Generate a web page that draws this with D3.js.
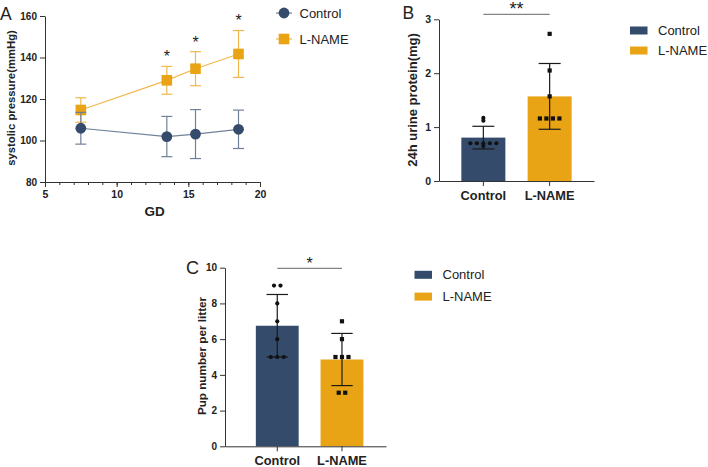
<!DOCTYPE html>
<html>
<head>
<meta charset="utf-8">
<script src="https://cdn.jsdelivr.net/npm/d3@7"></script>
<style>
  body { margin: 0; background: #fff; }
  svg { display: block; font-family: "Liberation Sans", Arial, sans-serif; }
</style>
</head>
<body>
<div id="chart"></div>
<script>
// ---- data ----
const groups = ["Control", "L-NAME"];
const colors = { "Control": "#344b6b", "L-NAME": "#e9a415" };
const lineColors = { "Control": "#6f8199", "L-NAME": "#f0b84a" };

// panel A: systolic pressure by gestational day
const gdDays = [7.5, 13.5, 15.5, 18.5];
const sbpControl = [105.9, 101.9, 103.1, 105.4];
const sbpControlErr = [7.65, 9.7, 11.8, 9.25];
const sbpLname = [114.7, 129.0, 134.6, 141.7];
const sbpLnameErr = [5.9, 6.7, 8.2, 11.3];
const sbpStarDays = [13.5, 15.5, 18.5];
const gdTicks = [5, 10, 15, 20];
const gdMinorTicks = d3.range(5, 21);
const sbpTicks = [80, 100, 120, 140, 160];

// panel B: 24h urine protein
const proteinControl = [1.17, 1.12, 0.70, 0.70, 0.70, 0.70, 0.70, 0.65];
const proteinLname = [2.73, 2.05, 1.57, 1.16, 1.16, 1.16, 1.16];
const proteinMean = [0.805, 1.57];
const proteinSd = [0.21, 0.61];
const proteinTicks = [0, 1, 2, 3];

// panel C: pups per litter
const pupsControl = [9, 9, 8, 7, 6, 5, 5, 5];
const pupsLname = [7, 6, 5, 5, 5, 3, 3];
const pupsMean = [6.75, 4.86];
const pupsSd = [1.75, 1.46];
const pupsTicks = [0, 2, 4, 6, 8, 10];

const W = 708, H = 467;
const axisColor = "#333";

const svg = d3.select("#chart").append("svg")
  .attr("width", W).attr("height", H)
  .attr("viewBox", `0 0 ${W} ${H}`);

function styleAxis(g, fs) {
  g.selectAll("path").attr("stroke", axisColor).attr("stroke-width", 1);
  g.selectAll("line").attr("stroke", axisColor).attr("stroke-width", 1);
  g.selectAll("text")
    .attr("fill", "#222")
    .style("font-size", fs + "px")
    .style("font-weight", "bold")
    .style("font-family", '"Liberation Sans", Arial, sans-serif');
}

function panelLetter(txt, x, y, fs) {
  svg.append("text").attr("x", x).attr("y", y)
    .attr("font-size", fs).attr("fill", "#222").text(txt);
}

function star(txt, x, cy, fs) {
  svg.append("text").attr("x", x).attr("y", cy + 0.62 * fs)
    .attr("text-anchor", "middle").attr("font-size", fs)
    .attr("fill", "#222").text(txt);
}

// ================= Panel A =================
(function () {
  const x = d3.scaleLinear().domain([5, 20]).range([45, 260]);
  const y = d3.scaleLinear().domain([80, 160]).range([182, 16]);

  svg.append("g").attr("transform", `translate(0,${y(80)})`)
    .call(d3.axisBottom(x).tickValues(gdMinorTicks).tickSize(3).tickSizeOuter(0).tickFormat(""))
    .call(g => styleAxis(g, 10));
  svg.append("g").attr("transform", `translate(0,${y(80)})`)
    .call(d3.axisBottom(x).tickValues(gdTicks).tickSize(5).tickSizeOuter(0).tickPadding(4))
    .call(g => styleAxis(g, 10.5));
  svg.append("g").attr("transform", `translate(${x(5)},0)`)
    .call(d3.axisLeft(y).tickValues(sbpTicks).tickSize(5).tickSizeOuter(0).tickPadding(3))
    .call(g => styleAxis(g, 10));

  svg.append("text").attr("x", 154.5).attr("y", 216)
    .attr("text-anchor", "middle").attr("font-size", 13.5).attr("font-weight", "bold")
    .attr("fill", "#222").text("GD");
  svg.append("text").attr("transform", "translate(14.5,98) rotate(-90)")
    .attr("text-anchor", "middle").attr("font-size", 11.3).attr("font-weight", "bold")
    .attr("fill", "#222").text("systolic pressure(mmHg)");

  const series = [
    { name: "L-NAME", mean: sbpLname, err: sbpLnameErr, shape: "square" },
    { name: "Control", mean: sbpControl, err: sbpControlErr, shape: "circle" }
  ];
  const cap = 5.5;
  series.forEach(s => {
    const pts = gdDays.map((d, i) => ({ d, m: s.mean[i], e: s.err[i] }));
    const g = svg.append("g");
    g.append("path").datum(pts)
      .attr("d", d3.line().x(p => x(p.d)).y(p => y(p.m)))
      .attr("fill", "none").attr("stroke", lineColors[s.name]).attr("stroke-width", 1.2);
    const eb = g.selectAll("g.eb").data(pts).enter().append("g")
      .attr("stroke", lineColors[s.name]).attr("stroke-width", 1.2);
    eb.append("line").attr("x1", p => x(p.d)).attr("x2", p => x(p.d))
      .attr("y1", p => y(p.m - p.e)).attr("y2", p => y(p.m + p.e));
    eb.append("line").attr("x1", p => x(p.d) - cap).attr("x2", p => x(p.d) + cap)
      .attr("y1", p => y(p.m + p.e)).attr("y2", p => y(p.m + p.e));
    eb.append("line").attr("x1", p => x(p.d) - cap).attr("x2", p => x(p.d) + cap)
      .attr("y1", p => y(p.m - p.e)).attr("y2", p => y(p.m - p.e));
    if (s.shape === "circle") {
      g.selectAll("circle").data(pts).enter().append("circle")
        .attr("cx", p => x(p.d)).attr("cy", p => y(p.m)).attr("r", 5.4)
        .attr("fill", colors[s.name]);
    } else {
      g.selectAll("rect").data(pts).enter().append("rect")
        .attr("x", p => x(p.d) - 5.3).attr("y", p => y(p.m) - 5.3)
        .attr("width", 10.6).attr("height", 10.6)
        .attr("fill", colors[s.name]);
    }
  });

  // stars above L-NAME error bars
  sbpStarDays.forEach(d => {
    const i = gdDays.indexOf(d);
    star("*", x(d), y(sbpLname[i] + sbpLnameErr[i]) - 14, 16);
  });

  // legend
  const lg = svg.append("g");
  [["Control", 13, "circle"], ["L-NAME", 39, "square"]].forEach(([name, cy, shape]) => {
    lg.append("line").attr("x1", 276).attr("x2", 292).attr("y1", cy).attr("y2", cy)
      .attr("stroke", lineColors[name]).attr("stroke-width", 1.2);
    if (shape === "circle") {
      lg.append("circle").attr("cx", 284).attr("cy", cy).attr("r", 5.4).attr("fill", colors[name]);
    } else {
      lg.append("rect").attr("x", 284 - 5.3).attr("y", cy - 5.3)
        .attr("width", 10.6).attr("height", 10.6).attr("fill", colors[name]);
    }
    lg.append("text").attr("x", 299.5).attr("y", cy + 4.8)
      .attr("font-size", 13).attr("fill", "#222").text(name);
  });

  panelLetter("A", 0, 19.5, 17.5);
})();

// ============ bar panel helper (B and C) ============
function barPanel(opt) {
  const x = d3.scaleBand().domain(groups).range(opt.xRange)
    .paddingInner(opt.padInner).paddingOuter(opt.padOuter).align(opt.align);
  const y = d3.scaleLinear().domain(opt.yDomain).range(opt.yRange);
  const bw = x.bandwidth();
  const yBase = y(0);

  // bars
  svg.append("g").selectAll("rect").data(groups).enter().append("rect")
    .attr("x", g => x(g)).attr("width", bw)
    .attr("y", (g, i) => y(opt.mean[i]))
    .attr("height", (g, i) => yBase - y(opt.mean[i]))
    .attr("fill", g => colors[g]);

  // axes
  svg.append("g").attr("transform", `translate(0,${yBase})`)
    .call(d3.axisBottom(x).tickSize(5).tickSizeOuter(0).tickPadding(5))
    .call(g => styleAxis(g, 12.8));
  svg.append("g").attr("transform", `translate(${opt.xRange[0]},0)`)
    .call(d3.axisLeft(y).tickValues(opt.ticks).tickFormat(d3.format("d"))
      .tickSize(5).tickSizeOuter(0).tickPadding(3))
    .call(g => styleAxis(g, opt.tickFs));

  // error bars (mean +/- SD)
  const cap = bw / 4;
  const eb = svg.append("g").attr("stroke", "#1a1a1a").attr("stroke-width", 1.2);
  groups.forEach((g, i) => {
    const cx = x(g) + bw / 2;
    const hi = y(opt.mean[i] + opt.sd[i]), lo = y(opt.mean[i] - opt.sd[i]);
    eb.append("line").attr("x1", cx).attr("x2", cx).attr("y1", lo).attr("y2", hi);
    eb.append("line").attr("x1", cx - cap).attr("x2", cx + cap).attr("y1", hi).attr("y2", hi);
    eb.append("line").attr("x1", cx - cap).attr("x2", cx + cap).attr("y1", lo).attr("y2", lo);
  });

  // individual points, equal values spread in a row
  const step = 6.5;
  [opt.control, opt.lname].forEach((vals, gi) => {
    const cx = x(groups[gi]) + bw / 2;
    const counts = d3.rollup(vals, v => v.length, v => v);
    const seen = new Map();
    const pts = vals.map(v => {
      const n = counts.get(v);
      const k = seen.get(v) || 0;
      seen.set(v, k + 1);
      return { v, dx: (k - (n - 1) / 2) * step };
    });
    const g = svg.append("g").attr("fill", "#111");
    if (gi === 0) {
      g.selectAll("circle").data(pts).enter().append("circle")
        .attr("cx", p => cx + p.dx).attr("cy", p => y(p.v)).attr("r", 2.1);
    } else {
      g.selectAll("rect").data(pts).enter().append("rect")
        .attr("x", p => cx + p.dx - 2.1).attr("y", p => y(p.v) - 2.1)
        .attr("width", 4.2).attr("height", 4.2);
    }
  });

  // significance bracket
  const c0 = x(groups[0]) + bw / 2, c1 = x(groups[1]) + bw / 2;
  svg.append("line").attr("x1", c0).attr("x2", c1)
    .attr("y1", opt.sigY).attr("y2", opt.sigY)
    .attr("stroke", "#666").attr("stroke-width", 1);
  star(opt.sigText, (c0 + c1) / 2, opt.sigStarY, opt.sigFs);

  // y label
  svg.append("text").attr("transform", `translate(${opt.yLabelX},${opt.yLabelY}) rotate(-90)`)
    .attr("text-anchor", "middle").attr("font-size", opt.yLabelFs).attr("font-weight", "bold")
    .attr("fill", "#222").text(opt.yLabel);

  // legend
  groups.forEach((g, i) => {
    const ty = opt.legY + i * opt.legGap;
    svg.append("rect").attr("x", opt.legX).attr("y", ty - 8.5)
      .attr("width", 17.5).attr("height", 8).attr("fill", colors[g]);
    svg.append("text").attr("x", opt.legX + 28).attr("y", ty)
      .attr("font-size", 13).attr("fill", "#222").text(g);
  });
}

// ================= Panel B =================
barPanel({
  xRange: [439, 594], padInner: 0.336, padOuter: 0.337, align: 0.5,
  yDomain: [0, 3], yRange: [181, 19.3], ticks: proteinTicks, tickFs: 10.5,
  mean: proteinMean, sd: proteinSd,
  control: proteinControl, lname: proteinLname,
  sigY: 14.3, sigText: "**", sigStarY: 3.5, sigFs: 18,
  yLabel: "24h urine protein(mg)", yLabelX: 417, yLabelY: 100, yLabelFs: 13,
  legX: 630, legY: 35, legGap: 20
});
panelLetter("B", 402.5, 18.5, 17.5);

// ================= Panel C =================
barPanel({
  xRange: [225, 386], padInner: 0.338, padOuter: 0.413, align: 0.577,
  yDomain: [0, 10], yRange: [446.3, 267.7], ticks: pupsTicks, tickFs: 10,
  mean: pupsMean, sd: pupsSd,
  control: pupsControl, lname: pupsLname,
  sigY: 268.3, sigText: "*", sigStarY: 259.3, sigFs: 16,
  yLabel: "Pup number per litter", yLabelX: 206, yLabelY: 356, yLabelFs: 11.7,
  legX: 414.5, legY: 279.3, legGap: 21.8
});
panelLetter("C", 186, 273.5, 18);
</script>
</body>
</html>
